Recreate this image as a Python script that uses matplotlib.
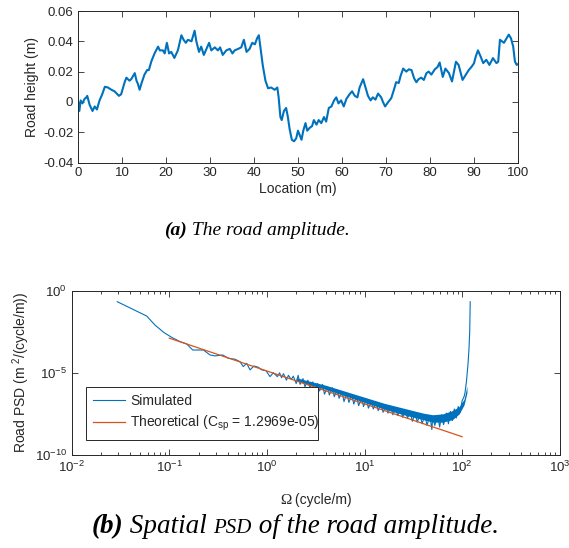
"""
Road profile figure: height along the track and its spatial PSD.
"""
import numpy as np
import matplotlib
matplotlib.use("Agg")
import matplotlib.pyplot as plt
from matplotlib.ticker import LogLocator, NullLocator, FixedLocator, FixedFormatter

# --- road height along the track (m) ---
location = [
    0, 0.3, 0.6, 1.0, 1.5, 1.9, 2.1, 2.65, 3.3, 3.8,
    4.3, 4.9, 5.5, 6.1, 6.8, 7.6, 8.3, 9.3, 9.8, 10.6,
    11.0, 11.7, 12.1, 12.9, 13.3, 13.6, 14.0, 14.4, 15.1, 15.7,
    16.1, 16.7, 17.4, 18.2, 18.6, 19.3, 19.7, 20.2, 20.7, 21.2,
    21.9, 22.7, 23.5, 24.0, 24.5, 25.0, 25.8, 26.1, 26.5, 26.9,
    27.5, 28.0, 28.6, 29.2, 29.8, 30.3, 31.1, 31.8, 32.3, 32.9,
    33.7, 34.5, 35.1, 35.6, 36.4, 37.1, 37.7, 38.3, 39.0, 39.6,
    40.2, 40.7, 41.1, 41.5, 42.0, 42.6, 43.2, 43.9, 44.7, 45.3,
    45.6, 46.0, 46.3, 46.8, 47.3, 47.7, 48.1, 48.6, 49.1, 49.6,
    50.0, 50.4, 50.8, 51.2, 51.7, 52.1, 52.7, 53.2, 53.6, 54.2,
    54.7, 55.3, 55.9, 56.4, 57.0, 57.6, 58.2, 58.7, 59.2, 59.8,
    60.4, 61.0, 61.7, 62.3, 62.9, 63.5, 64.0, 64.8, 65.3, 65.9,
    66.5, 67.0, 67.6, 68.2, 68.9, 69.3, 69.8, 70.4, 71.2, 71.8,
    72.3, 72.9, 73.3, 73.9, 74.6, 75.2, 75.8, 76.4, 76.9, 77.4,
    78.0, 78.6, 79.2, 79.7, 80.3, 81.1, 81.7, 82.2, 82.9, 83.5,
    84.3, 85.0, 85.9, 86.5, 87.4, 88.1, 88.8, 89.4, 90.0, 90.4,
    90.9, 91.5, 92.1, 92.8, 93.5, 94.3, 95.1, 95.5, 95.9, 96.8,
    97.9, 98.4, 98.9, 99.3, 99.7, 100.0,
]
height = [
    0.000, -0.006, 0.001, -0.001, 0.002, 0.003, 0.004, -0.002, -0.006, -0.003,
    -0.005, 0.001, 0.005, 0.010, 0.0095, 0.008, 0.007, 0.004, 0.005, 0.013,
    0.016, 0.014, 0.015, 0.019, 0.014, 0.012, 0.008, 0.012, 0.018, 0.021,
    0.021, 0.027, 0.032, 0.0365, 0.034, 0.034, 0.032, 0.039, 0.032, 0.033,
    0.029, 0.034, 0.044, 0.041, 0.039, 0.041, 0.040, 0.043, 0.047, 0.040,
    0.033, 0.0365, 0.031, 0.035, 0.039, 0.034, 0.036, 0.034, 0.036, 0.031,
    0.034, 0.035, 0.032, 0.034, 0.035, 0.036, 0.041, 0.033, 0.035, 0.039,
    0.038, 0.042, 0.044, 0.035, 0.024, 0.014, 0.009, 0.0095, 0.008, 0.0095,
    0.003, -0.010, -0.012, -0.006, -0.004, -0.010, -0.018, -0.025, -0.026, -0.024,
    -0.019, -0.022, -0.025, -0.019, -0.014, -0.019, -0.017, -0.016, -0.012, -0.015,
    -0.012, -0.014, -0.010, -0.013, -0.004, -0.003, 0.001, 0.003, -0.001, 0.001,
    -0.003, 0.002, 0.005, 0.007, 0.004, 0.003, 0.0095, 0.015, 0.010, 0.004,
    0.001, 0.003, 0.0015, 0.0055, 0.003, 0.000, -0.003, -0.0005, 0.0025, 0.008,
    0.013, 0.0125, 0.017, 0.022, 0.020, 0.0215, 0.021, 0.0155, 0.013, 0.015,
    0.016, 0.0145, 0.019, 0.020, 0.018, 0.0215, 0.023, 0.026, 0.0165, 0.022,
    0.019, 0.0135, 0.0265, 0.0244, 0.0145, 0.0178, 0.021, 0.023, 0.0255, 0.030,
    0.034, 0.030, 0.0256, 0.0278, 0.0244, 0.0289, 0.0256, 0.0265, 0.041, 0.039,
    0.0444, 0.042, 0.0367, 0.0267, 0.0244, 0.025,
]

# --- simulated PSD, log10 values (Omega in cycle/m, PSD in m^2/(cycle/m)) ---
sim_log_omega = [
    -1.533, -1.232, -1.147, -1.054, -0.975, -0.89, -0.822, -0.76, -0.65, -0.583,
    -0.532, -0.453, -0.396, -0.327, -0.276, -0.242, -0.207, -0.173, -0.132, -0.088,
    -0.053, -0.009, 0.032, 0.066, 0.107,
    0.13, 0.15, 0.17, 0.20, 0.22, 0.25, 0.27, 0.30, 0.32, 0.34,
    0.37, 0.39, 0.42, 0.44, 0.47, 0.49, 0.52, 0.54, 0.57, 0.59,
    0.62, 0.64, 0.67, 0.69, 0.72, 0.74, 0.77, 0.79, 0.82, 0.84,
    0.87, 0.89, 0.92, 0.94, 0.97, 0.99, 1.02, 1.04, 1.07, 1.09,
    1.12, 1.14, 1.17, 1.19, 1.22, 1.24, 1.27, 1.29, 1.32, 1.34,
    1.37, 1.39, 1.42, 1.44, 1.47, 1.49, 1.52, 1.54, 1.57, 1.59,
    1.62, 1.64, 1.67, 1.69, 1.70, 1.72, 1.75, 1.77, 1.79, 1.81,
    1.84, 1.86, 1.88, 1.90, 1.92, 1.94, 1.96, 1.98, 2.00, 2.02,
    2.03, 2.045, 2.06, 2.07, 2.078, 2.083,
]
sim_log_psd = [
    -0.67, -1.54, -2.09, -2.55, -2.84, -3.10, -3.24, -3.61, -3.61, -3.91,
    -3.97, -3.91, -4.11, -4.17, -4.32, -4.62, -4.42, -4.82, -4.58, -4.66,
    -4.82, -4.87, -5.23, -4.99, -5.23,
    -5.00, -5.30, -5.05, -5.45, -5.15, -5.40, -5.20, -5.65, -5.15, -5.70,
    -5.35, -5.85, -5.45, -5.90, -5.55, -6.05, -5.65, -6.10, -5.70, -6.30,
    -5.85, -6.35, -5.90, -6.45, -6.05, -6.55, -6.15, -6.75, -6.25, -6.80,
    -6.35, -6.90, -6.45, -7.00, -6.55, -7.05, -6.60, -7.15, -6.75, -7.20,
    -6.80, -7.30, -6.90, -7.40, -7.00, -7.45, -7.05, -7.55, -7.15, -7.60,
    -7.20, -7.70, -7.30, -7.75, -7.40, -7.95, -7.45, -8.00, -7.55, -8.10,
    -7.55, -8.20, -7.60, -8.45, -7.65, -8.20, -7.60, -8.30, -7.55, -8.15,
    -7.45, -8.10, -7.35, -7.90, -7.20, -7.75, -7.05, -7.40, -6.70, -6.45,
    -6.20, -5.50, -4.50, -3.60, -2.50, -0.67,
]

# dense core of the noisy band at high wavenumbers
band_log_omega = [0.3, 0.6, 0.9, 1.2, 1.4, 1.6, 1.7, 1.8, 1.9, 1.97, 2.02, 2.05]
band_log_upper = [-5.3, -5.75, -6.3, -6.85, -7.15, -7.45, -7.55, -7.5, -7.3, -7.05, -6.6, -5.8]
band_log_lower = [-5.5, -6.0, -6.6, -7.2, -7.55, -7.85, -8.0, -8.0, -7.85, -7.5, -6.95, -6.2]

# theoretical PSD: C_sp * Omega^-2
C_sp = 1.2969e-05
theory_omega = [0.1, 100.0]

BLUE = "#0072BD"
ORANGE = "#D95319"
AXC = "#262626"

plt.rcParams["font.family"] = ["Liberation Sans", "DejaVu Sans"]
plt.rcParams["axes.unicode_minus"] = False

W, H = 569, 548
fig = plt.figure(figsize=(W / 100, H / 100), dpi=100)


def style_axes(ax):
    for s in ax.spines.values():
        s.set_color(AXC)
        s.set_linewidth(0.7)
    ax.tick_params(which="both", direction="in", top=True, right=True,
                   colors=AXC, labelcolor=AXC, labelsize=9.5, width=0.6)
    ax.tick_params(which="major", length=4)
    ax.tick_params(which="minor", length=2)


def text_row(pieces, xc, yb):
    """Lay text pieces side by side, centred at xc, baseline at yb (pixels)."""
    renderer = fig.canvas.get_renderer()
    objs = [fig.text(0, 1 - yb / H, s, va="baseline", ha="left", **kw) for s, kw in pieces]
    widths = [o.get_window_extent(renderer).width for o in objs]
    x = xc - sum(widths) / 2
    for o, w in zip(objs, widths):
        o.set_x(x / W)
        x += w


# --- (a) road amplitude ---
ax1 = fig.add_axes([78 / W, 1 - 162.5 / H, 440 / W, 151.5 / H])
ax1.plot(location, height, color=BLUE, lw=1.5)
ax1.set_xlim(0, 100)
ax1.set_ylim(-0.04, 0.06)
ax1.set_xticks(np.arange(0, 101, 10))
yt = [-0.04, -0.02, 0, 0.02, 0.04, 0.06]
ax1.yaxis.set_major_locator(FixedLocator(yt))
ax1.yaxis.set_major_formatter(FixedFormatter(["-0.04", "-0.02", "0", "0.02", "0.04", "0.06"]))
style_axes(ax1)
ax1.set_xlabel("Location (m)", fontsize=10, color=AXC, labelpad=2)
ax1.set_ylabel("Road height (m)", fontsize=10, color=AXC, labelpad=3)

# --- (b) spatial PSD ---
ax2 = fig.add_axes([71.7 / W, 1 - 455 / H, 488 / W, 164.3 / H])
ax2.set_xscale("log")
ax2.set_yscale("log")
bo = 10 ** np.array(band_log_omega)
ax2.fill_between(bo, 10 ** np.array(band_log_lower), 10 ** np.array(band_log_upper),
                 color=BLUE, lw=0)
ax2.plot(10 ** np.array(sim_log_omega), 10 ** np.array(sim_log_psd),
         color=BLUE, lw=0.8, label="Simulated")
th = np.array(theory_omega)
ax2.plot(th, C_sp * th ** -2, color=ORANGE, lw=0.9,
         label=r"Theoretical (C$_{\mathdefault{sp}}$ = 1.2969e-05)")
ax2.set_xlim(1e-2, 1e3)
ax2.set_ylim(1e-10, 1e0)
ax2.xaxis.set_major_locator(LogLocator(base=10, numticks=10))
ax2.xaxis.set_minor_locator(LogLocator(base=10, subs=np.arange(2, 10), numticks=20))
ax2.yaxis.set_major_locator(FixedLocator([1e-10, 1e-5, 1e0]))
ax2.yaxis.set_minor_locator(NullLocator())
style_axes(ax2)
ax2.set_ylabel(r"Road PSD (m $^{\mathdefault{2}}$/(cycle/m))", fontsize=10,
               color=AXC, labelpad=2)
text_row([("\u03a9", dict(family="Liberation Serif", size=11, color=AXC)),
          (" (cycle/m)", dict(size=10, color=AXC))], 315.7, 504)
leg = ax2.legend(loc="lower left", bbox_to_anchor=(0.029, 0.091, 0.475, 0.286),
                 mode="expand", borderaxespad=0, fontsize=10, handlelength=2.3,
                 handletextpad=0.4, borderpad=0.5, labelspacing=0.45,
                 fancybox=False, framealpha=1)
leg.get_frame().set_edgecolor(AXC)
leg.get_frame().set_linewidth(0.7)
for t in leg.get_texts():
    t.set_color(AXC)

serif = "Liberation Serif"
text_row([("(a)", dict(family=serif, style="italic", weight="bold", size=14)),
          (" The road amplitude.", dict(family=serif, style="italic", size=14))],
         257, 235)
text_row([("(b)", dict(family=serif, style="italic", weight="bold", size=19.5)),
          (" Spatial ", dict(family=serif, style="italic", size=19.5)),
          ("PSD", dict(family=serif, style="italic", size=15)),
          (" of the road amplitude.", dict(family=serif, style="italic", size=19.5))],
         295, 533)

fig.savefig("out.png", dpi=100)
